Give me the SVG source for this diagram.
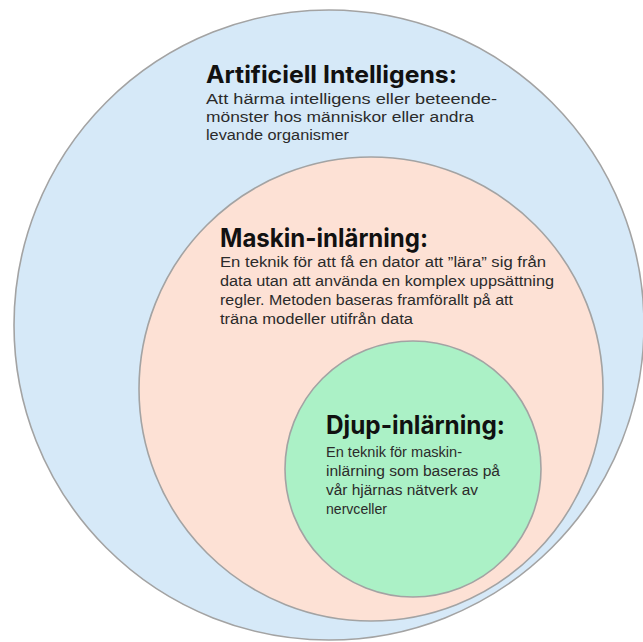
<svg xmlns="http://www.w3.org/2000/svg" width="643" height="642" viewBox="0 0 643 642">
<style>
.c{stroke:#a3a3a3;stroke-width:1.6}
.t{font-family:Inter,"Noto Sans",sans-serif;font-weight:700;fill:#111}
.b{font-family:"Liberation Sans",Arial,sans-serif;font-weight:400;fill:#2b2b2b;font-size:15.5px}
</style>
<rect width="643" height="642" fill="#ffffff"/>
<g id="ai">
<circle class="c" cx="329" cy="325" r="315" fill="#d6e9f8"/>
<text class="t" x="206" y="83" font-size="24" textLength="251" lengthAdjust="spacingAndGlyphs">Artificiell Intelligens:</text>
<text class="b" x="206" y="104" textLength="291" lengthAdjust="spacingAndGlyphs">Att härma intelligens eller beteende-</text>
<text class="b" x="206" y="122" textLength="268" lengthAdjust="spacingAndGlyphs">mönster hos människor eller andra</text>
<text class="b" x="206" y="140" textLength="143" lengthAdjust="spacingAndGlyphs">levande organismer</text>
</g>
<g id="ml">
<circle class="c" cx="371" cy="389" r="232" fill="#fde1d5"/>
<text class="t" x="220" y="247" font-size="25" textLength="208" lengthAdjust="spacingAndGlyphs">Maskin-inlärning:</text>
<text class="b" x="220" y="267" textLength="326" lengthAdjust="spacingAndGlyphs">En teknik för att få en dator att ”lära” sig från</text>
<text class="b" x="220" y="286" textLength="334" lengthAdjust="spacingAndGlyphs">data utan att använda en komplex uppsättning</text>
<text class="b" x="220" y="305" textLength="293" lengthAdjust="spacingAndGlyphs">regler. Metoden baseras framförallt på att</text>
<text class="b" x="220" y="324" textLength="193" lengthAdjust="spacingAndGlyphs">träna modeller utifrån data</text>
</g>
<g id="dl">
<circle class="c" cx="413" cy="469" r="128" fill="#abf1c6"/>
<text class="t" x="326" y="434" font-size="25" textLength="179" lengthAdjust="spacingAndGlyphs">Djup-inlärning:</text>
<text class="b" x="326" y="457" textLength="136" lengthAdjust="spacingAndGlyphs">En teknik för maskin-</text>
<text class="b" x="326" y="476" textLength="174" lengthAdjust="spacingAndGlyphs">inlärning som baseras på</text>
<text class="b" x="326" y="495" textLength="152" lengthAdjust="spacingAndGlyphs">vår hjärnas nätverk av</text>
<text class="b" x="326" y="514" textLength="61" lengthAdjust="spacingAndGlyphs">nervceller</text>
</g>
<g id="connectors"/>
</svg>
